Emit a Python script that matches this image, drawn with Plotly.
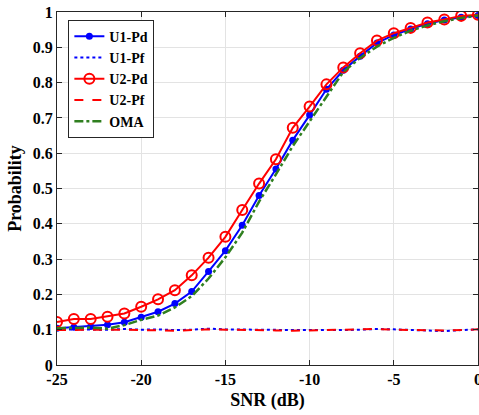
import plotly.graph_objects as go

snr = list(range(-25, 1))

u1_pd = [0.104, 0.107, 0.109, 0.114, 0.121, 0.135, 0.151, 0.174, 0.208, 0.265,
         0.324, 0.396, 0.480, 0.555, 0.637, 0.708, 0.781, 0.835, 0.875, 0.912,
         0.935, 0.952, 0.967, 0.977, 0.985, 0.990]
u1_pf = [0.101, 0.100, 0.101, 0.100, 0.102, 0.100, 0.101, 0.099, 0.100, 0.103,
         0.101, 0.100, 0.101, 0.099, 0.099, 0.099, 0.098, 0.099, 0.100, 0.102,
         0.101, 0.100, 0.099, 0.096, 0.099, 0.101]
u2_pd = [0.122, 0.130, 0.130, 0.137, 0.146, 0.165, 0.186, 0.212, 0.254, 0.304,
         0.363, 0.439, 0.514, 0.583, 0.672, 0.732, 0.795, 0.843, 0.883, 0.919,
         0.940, 0.955, 0.970, 0.979, 0.989, 0.992]
u2_pf = [0.099, 0.100, 0.101, 0.100, 0.100, 0.099, 0.100, 0.097, 0.099, 0.101,
         0.100, 0.100, 0.099, 0.098, 0.097, 0.098, 0.097, 0.099, 0.101, 0.102,
         0.100, 0.099, 0.100, 0.098, 0.099, 0.101]
oma = [0.104, 0.106, 0.106, 0.103, 0.113, 0.128, 0.140, 0.163, 0.195, 0.245,
       0.305, 0.375, 0.463, 0.540, 0.620, 0.690, 0.760, 0.830, 0.870, 0.902,
       0.927, 0.947, 0.962, 0.974, 0.983, 0.990]

FONT = "Liberation Serif"
GREEN = "#2f7f1f"

fig = go.Figure()
fig.add_trace(go.Scatter(x=snr, y=u1_pd, name="U1-Pd", mode="lines+markers",
                         line=dict(color="blue", width=2),
                         marker=dict(symbol="circle", size=7, color="blue")))
fig.add_trace(go.Scatter(x=snr, y=u1_pf, name="U1-Pf", mode="lines",
                         line=dict(color="blue", width=2, dash="dot")))
fig.add_trace(go.Scatter(x=snr, y=u2_pd, name="U2-Pd", mode="lines+markers",
                         line=dict(color="red", width=2),
                         marker=dict(symbol="circle-open", size=10, color="red",
                                     line=dict(width=2, color="red"))))
fig.add_trace(go.Scatter(x=snr, y=u2_pf, name="U2-Pf", mode="lines",
                         line=dict(color="red", width=2, dash="dash")))
fig.add_trace(go.Scatter(x=snr, y=oma, name="OMA", mode="lines",
                         line=dict(color=GREEN, width=2.5, dash="dashdot")))

axis_common = dict(
    showgrid=True, gridcolor="#e3e3e3", gridwidth=1,
    showline=True, linecolor="#262626", linewidth=1, mirror="allticks",
    ticks="inside", ticklen=5, tickcolor="#262626",
    zeroline=False, automargin=False, ticklabeloverflow="allow",
    tickfont=dict(family=FONT, size=16, color="black", weight="bold"),
)

fig.update_xaxes(range=[-25, 0], tickmode="array",
                 tickvals=[-25, -20, -15, -10, -5, 0],
                 ticktext=["-25", "-20", "-15", "-10", "-5", "0"],
                 title=dict(text="SNR (dB)", standoff=6,
                            font=dict(family=FONT, size=18, color="black", weight="bold")),
                 **axis_common)
fig.update_yaxes(range=[0, 1], tickmode="array",
                 tickvals=[0, 0.1, 0.2, 0.3, 0.4, 0.5, 0.6, 0.7, 0.8, 0.9, 1],
                 ticktext=["0", "0.1", "0.2", "0.3", "0.4", "0.5", "0.6", "0.7", "0.8", "0.9", "1"],
                 title=dict(text="Probability", standoff=6,
                            font=dict(family=FONT, size=18, color="black", weight="bold")),
                 **axis_common)

fig.update_layout(
    width=479, height=415,
    margin=dict(l=57, r=1, t=12, b=50, autoexpand=False),
    paper_bgcolor="white", plot_bgcolor="white",
    legend=dict(x=0.027, y=0.978, xanchor="left", yanchor="top",
                bgcolor="white", bordercolor="#262626", borderwidth=1,
                font=dict(family=FONT, size=14, color="black", weight="bold"),
                tracegroupgap=0, itemwidth=30),
    showlegend=True,
)

fig.write_html("out.html", config={"displayModeBar": False},
               post_script="document.body.style.margin='0';document.body.style.padding='0';")
